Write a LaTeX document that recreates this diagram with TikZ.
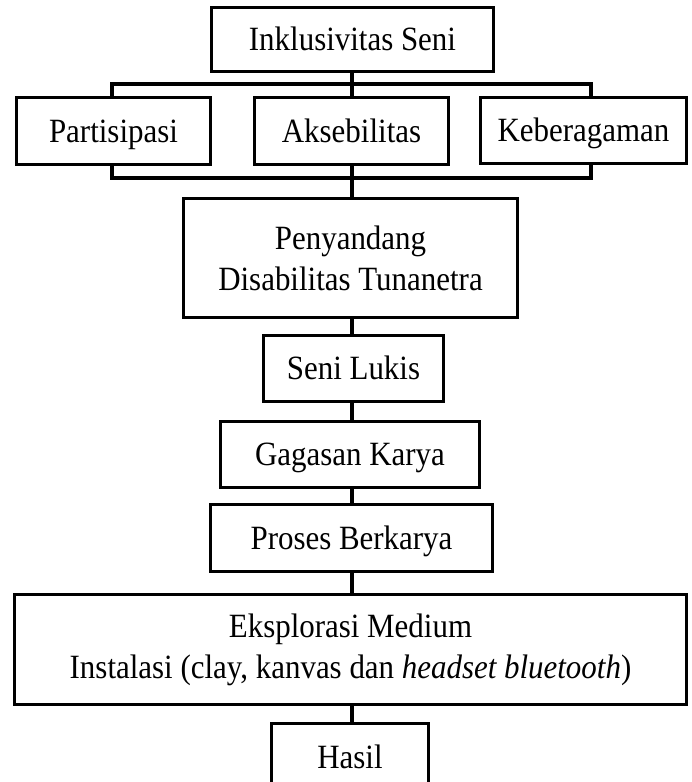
\documentclass[tikz,border=0pt]{standalone}
\usepackage{fontspec}
\setmainfont{Liberation Serif}[FakeStretch=0.91]
\begin{document}
\begin{tikzpicture}[x=1pt,y=-1pt,
  box/.style={draw=black,line width=3pt,rectangle,inner sep=0pt,align=center,
    font=\fontsize{34}{41}\selectfont},
  one/.style={box,text height=30pt,text depth=7.6pt},
  conn/.style={draw=black,line width=3.5pt}]
\clip (0,0) rectangle (691,782);
\fill[white] (0,0) rectangle (691,782);
\node[one,minimum width=282pt,minimum height=64pt] (b1) at (352.5,39.5) {Inklusivitas Seni};
\node[one,minimum width=194pt,minimum height=67pt] (p) at (113.5,131) {Partisipasi};
\node[one,minimum width=194pt,minimum height=67pt] (a) at (351.5,131) {Aksebilitas};
\node[one,minimum width=206pt,minimum height=66pt] (k) at (583.5,130.5) {Keberagaman};
\node[box,minimum width=334pt,minimum height=119pt] (pen) at (350.5,258) {Penyandang\\Disabilitas Tunanetra};
\node[one,minimum width=180pt,minimum height=66pt] (sl) at (353.5,368.5) {Seni Lukis};
\node[one,minimum width=259pt,minimum height=66pt] (g) at (350,454.5) {Gagasan Karya};
\node[one,minimum width=282pt,minimum height=67pt] (pr) at (351.5,538) {Proses Berkarya};
\node[box,minimum width=672pt,minimum height=110pt] (e) at (350.5,649.5) {Eksplorasi Medium\\Instalasi (clay, kanvas dan \textit{headset bluetooth})};
\node[one,minimum width=157pt,minimum height=67pt] (h) at (350,757) {Hasil};
\coordinate (tl) at (112,84);
\coordinate (tr) at (591,84);
\coordinate (bl) at (112,178);
\coordinate (br) at (591,178);
\draw[conn] (tl |- p.north) -- (tl) -- (tr) -- (tr |- k.north);
\draw[conn] (b1.south -| 352,0) -- (a.north -| 352,0);
\draw[conn] (bl |- p.south) -- (bl) -- (br) -- (br |- k.south);
\draw[conn] (a.south -| 352,0) -- (pen.north -| 352,0);
\draw[conn] (pen.south -| 352,0) -- (sl.north -| 352,0);
\draw[conn] (sl.south -| 352,0) -- (g.north -| 352,0);
\draw[conn] (g.south -| 352,0) -- (pr.north -| 352,0);
\draw[conn] (pr.south -| 352,0) -- (e.north -| 352,0);
\draw[conn] (e.south -| 352,0) -- (h.north -| 352,0);
\end{tikzpicture}
\end{document}
